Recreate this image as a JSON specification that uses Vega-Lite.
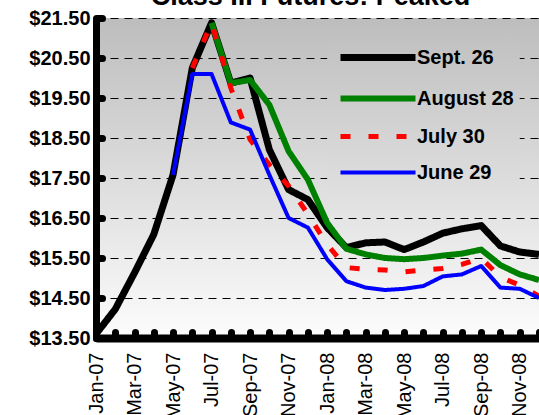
{
  "$schema": "https://vega.github.io/schema/vega-lite/v6.json",
  "width": 443,
  "height": 320,
  "autosize": {"type": "none"},
  "padding": {"left": 96, "top": 18, "right": 0, "bottom": 77},
  "background": "white",
  "title": {"text": "Class III Futures: Peaked", "font": "Liberation Sans", "fontSize": 27, "fontWeight": "bold", "color": "black", "anchor": "middle", "baseline": "alphabetic", "offset": 0, "dy": 24, "dx": -7},
  "config": {
    "font": "Liberation Sans",
    "view": {"stroke": null, "fill": {"gradient": "linear", "x1": 0, "y1": 0, "x2": 0, "y2": 1, "stops": [{"offset": 0, "color": "#bdbdbd"}, {"offset": 1, "color": "#fcfcfc"}]}}
  },
  "data": {"values": [
    {"month": "Jan-07", "series": "Sept. 26", "price": 13.6},
    {"month": "Feb-07", "series": "Sept. 26", "price": 14.22},
    {"month": "Mar-07", "series": "Sept. 26", "price": 15.13},
    {"month": "Apr-07", "series": "Sept. 26", "price": 16.09},
    {"month": "May-07", "series": "Sept. 26", "price": 17.58},
    {"month": "Jun-07", "series": "Sept. 26", "price": 20.25},
    {"month": "Jul-07", "series": "Sept. 26", "price": 21.38},
    {"month": "Aug-07", "series": "Sept. 26", "price": 19.87},
    {"month": "Sep-07", "series": "Sept. 26", "price": 20.0},
    {"month": "Oct-07", "series": "Sept. 26", "price": 18.21},
    {"month": "Nov-07", "series": "Sept. 26", "price": 17.21},
    {"month": "Dec-07", "series": "Sept. 26", "price": 16.96},
    {"month": "Jan-08", "series": "Sept. 26", "price": 16.26},
    {"month": "Feb-08", "series": "Sept. 26", "price": 15.76},
    {"month": "Mar-08", "series": "Sept. 26", "price": 15.88},
    {"month": "Apr-08", "series": "Sept. 26", "price": 15.9},
    {"month": "May-08", "series": "Sept. 26", "price": 15.71},
    {"month": "Jun-08", "series": "Sept. 26", "price": 15.9},
    {"month": "Jul-08", "series": "Sept. 26", "price": 16.12},
    {"month": "Aug-08", "series": "Sept. 26", "price": 16.23},
    {"month": "Sep-08", "series": "Sept. 26", "price": 16.31},
    {"month": "Oct-08", "series": "Sept. 26", "price": 15.8},
    {"month": "Nov-08", "series": "Sept. 26", "price": 15.65},
    {"month": "Dec-08", "series": "Sept. 26", "price": 15.59},

    {"month": "Jul-07", "series": "August 28", "price": 21.38},
    {"month": "Aug-07", "series": "August 28", "price": 19.87},
    {"month": "Sep-07", "series": "August 28", "price": 19.95},
    {"month": "Oct-07", "series": "August 28", "price": 19.33},
    {"month": "Nov-07", "series": "August 28", "price": 18.17},
    {"month": "Dec-07", "series": "August 28", "price": 17.46},
    {"month": "Jan-08", "series": "August 28", "price": 16.38},
    {"month": "Feb-08", "series": "August 28", "price": 15.73},
    {"month": "Mar-08", "series": "August 28", "price": 15.59},
    {"month": "Apr-08", "series": "August 28", "price": 15.5},
    {"month": "May-08", "series": "August 28", "price": 15.47},
    {"month": "Jun-08", "series": "August 28", "price": 15.5},
    {"month": "Jul-08", "series": "August 28", "price": 15.56},
    {"month": "Aug-08", "series": "August 28", "price": 15.61},
    {"month": "Sep-08", "series": "August 28", "price": 15.71},
    {"month": "Oct-08", "series": "August 28", "price": 15.32},
    {"month": "Nov-08", "series": "August 28", "price": 15.09},
    {"month": "Dec-08", "series": "August 28", "price": 14.95},

    {"month": "Jun-07", "series": "July 30", "price": 20.25},
    {"month": "Jul-07", "series": "July 30", "price": 21.38},
    {"month": "Aug-07", "series": "July 30", "price": 19.75},
    {"month": "Sep-07", "series": "July 30", "price": 18.46},
    {"month": "Oct-07", "series": "July 30", "price": 17.83},
    {"month": "Nov-07", "series": "July 30", "price": 17.3},
    {"month": "Dec-07", "series": "July 30", "price": 16.6},
    {"month": "Jan-08", "series": "July 30", "price": 15.84},
    {"month": "Feb-08", "series": "July 30", "price": 15.26},
    {"month": "Mar-08", "series": "July 30", "price": 15.22},
    {"month": "Apr-08", "series": "July 30", "price": 15.2},
    {"month": "May-08", "series": "July 30", "price": 15.15},
    {"month": "Jun-08", "series": "July 30", "price": 15.2},
    {"month": "Jul-08", "series": "July 30", "price": 15.24},
    {"month": "Aug-08", "series": "July 30", "price": 15.34},
    {"month": "Sep-08", "series": "July 30", "price": 15.5},
    {"month": "Oct-08", "series": "July 30", "price": 15.02},
    {"month": "Nov-08", "series": "July 30", "price": 14.82},
    {"month": "Dec-08", "series": "July 30", "price": 14.55},

    {"month": "May-07", "series": "June 29", "price": 17.58},
    {"month": "Jun-07", "series": "June 29", "price": 20.1},
    {"month": "Jul-07", "series": "June 29", "price": 20.1},
    {"month": "Aug-07", "series": "June 29", "price": 18.89},
    {"month": "Sep-07", "series": "June 29", "price": 18.71},
    {"month": "Oct-07", "series": "June 29", "price": 17.58},
    {"month": "Nov-07", "series": "June 29", "price": 16.5},
    {"month": "Dec-07", "series": "June 29", "price": 16.26},
    {"month": "Jan-08", "series": "June 29", "price": 15.47},
    {"month": "Feb-08", "series": "June 29", "price": 14.92},
    {"month": "Mar-08", "series": "June 29", "price": 14.76},
    {"month": "Apr-08", "series": "June 29", "price": 14.7},
    {"month": "May-08", "series": "June 29", "price": 14.73},
    {"month": "Jun-08", "series": "June 29", "price": 14.8},
    {"month": "Jul-08", "series": "June 29", "price": 15.04},
    {"month": "Aug-08", "series": "June 29", "price": 15.09},
    {"month": "Sep-08", "series": "June 29", "price": 15.3},
    {"month": "Oct-08", "series": "June 29", "price": 14.76},
    {"month": "Nov-08", "series": "June 29", "price": 14.73},
    {"month": "Dec-08", "series": "June 29", "price": 14.5}
  ]},
  "layer": [
    {
      "data": {"values": [{}]},
      "mark": {"type": "rect", "color": {"gradient": "linear", "x1": 0, "y1": 0, "x2": 0, "y2": 1, "stops": [{"offset": 0, "color": "#c1c1c1"}, {"offset": 1, "color": "#dfdfdf"}]}},
      "encoding": {
        "x": {
          "datum": "Jan-08", "type": "ordinal",
          "axis": {
            "title": null, "labelAngle": -90,
            "labelExpr": "indexof(['Jan','Mar','May','Jul','Sep','Nov'], slice(datum.value, 0, 3)) >= 0 ? datum.value : ''",
            "labelFont": "Liberation Sans", "labelFontSize": 20, "labelColor": "black", "labelPadding": 20, "labelDy": -3,
            "labelOverlap": false, "labelBound": false,
            "domainColor": "black", "domainWidth": 8,
            "tickColor": "black", "tickWidth": 7, "tickSize": -6, "tickCap": "round",
            "grid": false
          }
        },
        "x2": {"datum": "Nov-08"},
        "y": {
          "datum": 21.05, "type": "quantitative",
          "axis": {
            "title": null, "values": [13.5,14.5,15.5,16.5,17.5,18.5,19.5,20.5,21.5], "format": "$.2f", "labelOverlap": false,
            "labelFont": "Liberation Sans", "labelFontSize": 20, "labelFontWeight": "bold", "labelColor": "black", "labelPadding": 12,
            "domainColor": "black", "domainWidth": 7,
            "tickColor": "black", "tickWidth": 7, "tickSize": -6, "tickCap": "round",
            "grid": true, "gridColor": "black", "gridDash": [8, 6], "gridWidth": 1, "gridOpacity": 1
          }
        },
        "y2": {"datum": 17.1}
      }
    },
    {
      "mark": {"type": "line", "strokeJoin": "round"},
      "encoding": {
        "x": {
          "field": "month", "type": "ordinal",
          "scale": {"type": "point", "padding": 0, "domain": ["Jan-07","Feb-07","Mar-07","Apr-07","May-07","Jun-07","Jul-07","Aug-07","Sep-07","Oct-07","Nov-07","Dec-07","Jan-08","Feb-08","Mar-08","Apr-08","May-08","Jun-08","Jul-08","Aug-08","Sep-08","Oct-08","Nov-08","Dec-08"]},
          "axis": {
            "title": null, "labelAngle": -90,
            "labelExpr": "indexof(['Jan','Mar','May','Jul','Sep','Nov'], slice(datum.value, 0, 3)) >= 0 ? datum.value : ''",
            "labelFont": "Liberation Sans", "labelFontSize": 20, "labelColor": "black", "labelPadding": 20, "labelDy": -3,
            "labelOverlap": false, "labelBound": false,
            "domainColor": "black", "domainWidth": 8,
            "tickColor": "black", "tickWidth": 7, "tickSize": -6, "tickCap": "round",
            "grid": false
          }
        },
        "y": {
          "field": "price", "type": "quantitative",
          "scale": {"domain": [13.5, 21.5], "zero": false, "nice": false},
          "axis": {
            "title": null, "values": [13.5,14.5,15.5,16.5,17.5,18.5,19.5,20.5,21.5], "format": "$.2f", "labelOverlap": false,
            "labelFont": "Liberation Sans", "labelFontSize": 20, "labelFontWeight": "bold", "labelColor": "black", "labelPadding": 12,
            "domainColor": "black", "domainWidth": 7,
            "tickColor": "black", "tickWidth": 7, "tickSize": -6, "tickCap": "round",
            "grid": true, "gridColor": "black", "gridDash": [8, 6], "gridWidth": 1, "gridOpacity": 1
          }
        },
        "color": {
          "field": "series", "type": "ordinal",
          "scale": {"domain": ["Sept. 26","August 28","July 30","June 29"], "range": ["#000000","#008000","#ff0000","#0000ff"]},
          "legend": {
            "orient": "none", "legendX": 296, "legendY": 26, "title": null, "padding": 0,
            "symbolType": "M-6.5,0H1", "symbolSize": 400, "symbolFillColor": "transparent",
            "labelFont": "Liberation Sans", "labelFontSize": 20, "labelFontWeight": "bold", "labelColor": "black",
            "labelOffset": -2, "rowPadding": 13.5
          }
        },
        "strokeWidth": {
          "field": "series", "type": "ordinal",
          "scale": {"domain": ["Sept. 26","August 28","July 30","June 29"], "range": [7, 4, 5, 2.5]}
        },
        "strokeDash": {
          "field": "series", "type": "ordinal",
          "scale": {"domain": ["Sept. 26","August 28","July 30","June 29"], "range": [[1,0],[1,0],[10,18],[1,0]]}
        }
      }
    }
  ]
}
